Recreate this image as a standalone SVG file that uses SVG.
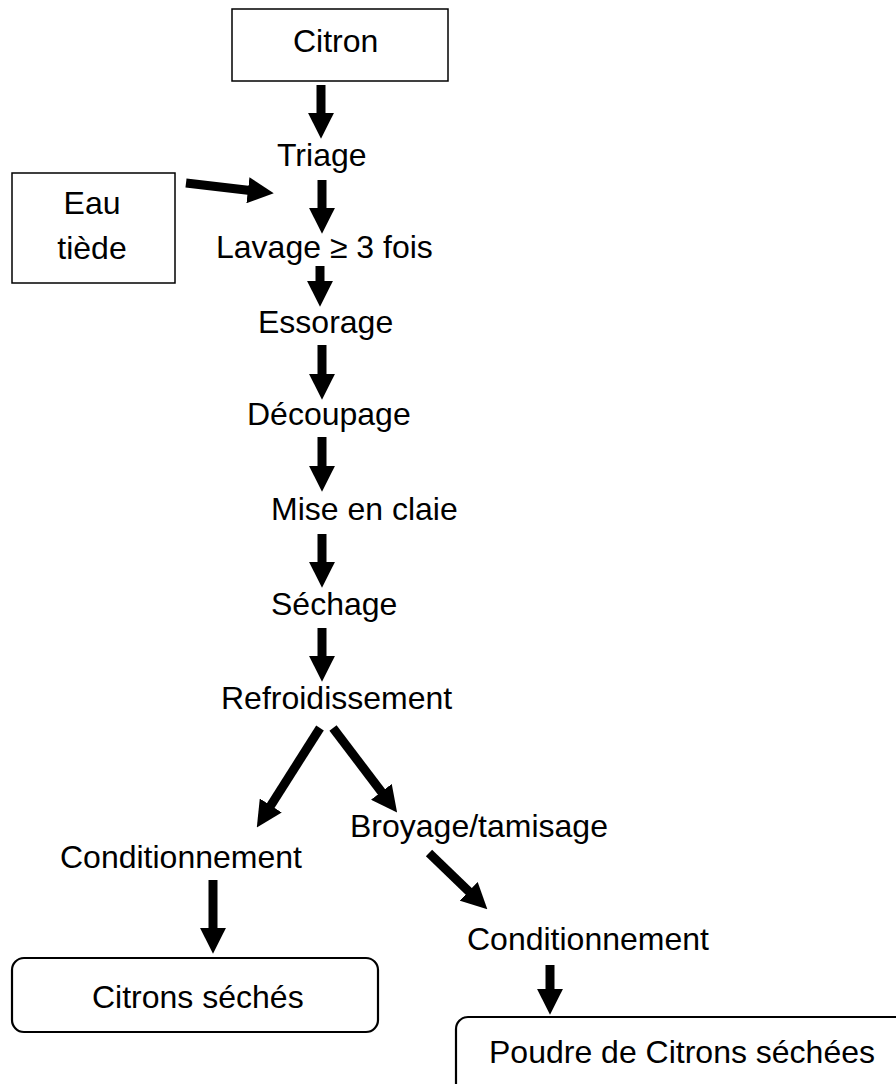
<svg xmlns="http://www.w3.org/2000/svg" width="896" height="1084" viewBox="0 0 896 1084">
<style>
text{font-family:"Liberation Sans",Arial,sans-serif;font-size:32px;fill:#000}
.box{fill:#fff;stroke:#000;stroke-width:1.5}
.rbox{fill:#fff;stroke:#000;stroke-width:2.2}
.arr{stroke:#000;stroke-width:9;fill:none;marker-end:url(#ah)}
</style>
<defs>
<marker id="ah" markerUnits="userSpaceOnUse" markerWidth="26" markerHeight="26" viewBox="0 0 24 24" refX="2" refY="12" orient="auto">
<path d="M0,0 L24,12 L0,24 Z" fill="#000"/>
</marker>
</defs>
<rect width="896" height="1084" fill="#fff"/>
<g id="n-citron"><rect class="box" x="232" y="9" width="216" height="72"/><text x="293" y="52">Citron</text></g>
<g id="n-eau"><rect class="box" x="12" y="173" width="163" height="110"/><text x="92" y="214" text-anchor="middle">Eau</text><text x="92" y="259" text-anchor="middle">tiède</text></g>
<g id="n-triage"><text x="277" y="166">Triage</text></g>
<g id="n-lavage"><text x="216" y="258">Lavage ≥ 3 fois</text></g>
<g id="n-essorage"><text x="258" y="333">Essorage</text></g>
<g id="n-decoupage"><text x="247" y="425">Découpage</text></g>
<g id="n-claie"><text x="271" y="520">Mise en claie</text></g>
<g id="n-sechage"><text x="271" y="615">Séchage</text></g>
<g id="n-refroid"><text x="221" y="709">Refroidissement</text></g>
<g id="n-broyage"><text x="350" y="837">Broyage/tamisage</text></g>
<g id="n-cond1"><text x="60" y="868">Conditionnement</text></g>
<g id="n-cond2"><text x="467" y="950">Conditionnement</text></g>
<g id="n-citrons"><rect class="rbox" x="12" y="958" width="366" height="74" rx="12"/><text x="92" y="1008">Citrons séchés</text></g>
<g id="n-poudre"><rect class="rbox" x="456" y="1017" width="460" height="90" rx="12"/><text x="489" y="1063">Poudre de Citrons séchées</text></g>
<g id="connectors">
<line class="arr" x1="321" y1="85" x2="321" y2="115"/>
<line class="arr" x1="186" y1="183" x2="250.1" y2="190.5"/>
<line class="arr" x1="322" y1="180" x2="322" y2="210"/>
<line class="arr" x1="320" y1="266" x2="320" y2="283"/>
<line class="arr" x1="322" y1="345" x2="322" y2="376"/>
<line class="arr" x1="322" y1="437" x2="322" y2="468"/>
<line class="arr" x1="322" y1="534" x2="322" y2="564"/>
<line class="arr" x1="322" y1="628" x2="322" y2="658"/>
<line class="arr" x1="320" y1="728" x2="269.6" y2="807.3"/>
<line class="arr" x1="333" y1="728" x2="382.7" y2="793.5"/>
<line class="arr" x1="429" y1="853" x2="470.2" y2="892.8"/>
<line class="arr" x1="213" y1="880" x2="213" y2="930"/>
<line class="arr" x1="550" y1="965" x2="550" y2="991"/>
</g>
</svg>
